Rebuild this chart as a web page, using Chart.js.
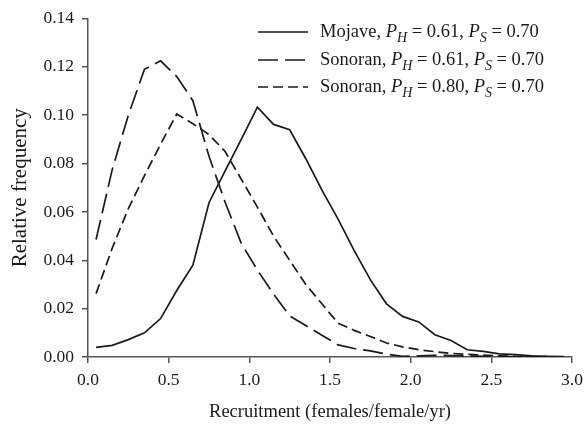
<!DOCTYPE html>
<html>
<head>
<meta charset="utf-8">
<script src="https://cdn.jsdelivr.net/npm/chart.js@4"></script>
<style>
  html, body { margin: 0; padding: 0; background: #fff; }
  #wrap { width: 585px; height: 428px; position: relative; }
</style>
</head>
<body>
<div id="wrap"><canvas id="chart"></canvas></div>
<script>
// bin centres (females/female/yr)
const bins = [0.05, 0.15, 0.25, 0.35, 0.45, 0.55, 0.65, 0.75, 0.85, 0.95,
              1.05, 1.15, 1.25, 1.35, 1.45, 1.55, 1.65, 1.75, 1.85, 1.95,
              2.05, 2.15, 2.25, 2.35, 2.45, 2.55, 2.65, 2.75, 2.85, 2.95];

const mojave = [0.004, 0.0048, 0.0072, 0.010, 0.0159, 0.0275, 0.038, 0.0638, 0.077, 0.090,
                0.1033, 0.0962, 0.094, 0.082, 0.069, 0.057, 0.044, 0.032, 0.022, 0.0168,
                0.0145, 0.0092, 0.0068, 0.003, 0.0023, 0.0013, 0.001, 0.0005, 0.0003, 0.0002];

const sonoran61 = [0.0486, 0.0775, 0.100, 0.119, 0.1225, 0.116, 0.106, 0.083, 0.064, 0.047,
                   0.036, 0.026, 0.017, 0.013, 0.009, 0.005, 0.0035, 0.0025, 0.0012, 0.0003,
                   0.0005, 0.0007, 0.0006, 0.0005, 0.0003, 0.0002, 0.0001, 0.0001, 0.0001, 0.0];

const sonoran80 = [0.0262, 0.045, 0.0614, 0.075, 0.088, 0.1005, 0.0965, 0.092, 0.085, 0.0735,
                   0.062, 0.050, 0.040, 0.030, 0.022, 0.014, 0.011, 0.0085, 0.0058, 0.0042,
                   0.003, 0.0022, 0.0015, 0.0011, 0.0008, 0.0005, 0.0003, 0.0002, 0.0001, 0.0001];

const xTicks = [0, 0.5, 1.0, 1.5, 2.0, 2.5, 3.0];
const yTicks = [0, 0.02, 0.04, 0.06, 0.08, 0.10, 0.12, 0.14];

const legendItems = [
  { site: 'Mojave, ', ph: '0.61', ps: '0.70', dash: [] },
  { site: 'Sonoran, ', ph: '0.61', ps: '0.70', dash: [20, 7] },
  { site: 'Sonoran, ', ph: '0.80', ps: '0.70', dash: [10, 5] }
];

const serif = '"Liberation Serif", "Times New Roman", serif';
const ink = '#1a1a1a';

function toPoints(ys) {
  return bins.map((x, i) => ({ x: x, y: ys[i] }));
}

function lineSet(label, ys, dash) {
  return {
    label: label,
    data: toPoints(ys),
    borderColor: ink,
    borderWidth: 1.7,
    borderDash: dash,
    pointRadius: 0,
    tension: 0,
    fill: false
  };
}

// legend with italic P and subscripts, top right inside the plot
const legendPlugin = {
  id: 'paperLegend',
  afterDraw(chart) {
    const ctx = chart.ctx;
    const x0 = 258, x1 = 308, tx = 320;
    const rows = [32, 60, 87];
    ctx.save();
    ctx.textBaseline = 'middle';
    ctx.fillStyle = ink;
    legendItems.forEach((it, i) => {
      const y = rows[i];
      ctx.beginPath();
      ctx.setLineDash(it.dash);
      ctx.lineWidth = 1.7;
      ctx.strokeStyle = ink;
      ctx.moveTo(x0, y);
      ctx.lineTo(x1, y);
      ctx.stroke();
      ctx.setLineDash([]);

      let x = tx;
      const put = (txt, font, dy) => {
        ctx.font = font;
        ctx.fillText(txt, x, y + dy);
        x += ctx.measureText(txt).width;
      };
      put(it.site, '18.5px ' + serif, 0);
      put('P', 'italic 18.5px ' + serif, 0);
      put('H', 'italic 14px ' + serif, 6);
      put(' = ' + it.ph + ', ', '18.5px ' + serif, 0);
      put('P', 'italic 18.5px ' + serif, 0);
      put('S', 'italic 14px ' + serif, 6);
      put(' = ' + it.ps, '18.5px ' + serif, 0);
    });
    ctx.restore();
  }
};

const ctx = document.getElementById('chart').getContext('2d');
new Chart(ctx, {
  type: 'line',
  data: {
    datasets: [
      lineSet('Mojave, PH = 0.61, PS = 0.70', mojave, []),
      lineSet('Sonoran, PH = 0.61, PS = 0.70', sonoran61, [20, 7]),
      lineSet('Sonoran, PH = 0.80, PS = 0.70', sonoran80, [10, 5])
    ]
  },
  options: {
    responsive: true,
    maintainAspectRatio: false,
    animation: false,
    layout: { padding: { left: 0, right: 13, top: 18, bottom: 0 } },
    plugins: {
      legend: { display: false },
      tooltip: { enabled: false }
    },
    scales: {
      x: {
        type: 'linear',
        min: 0,
        max: 3,
        afterBuildTicks: (scale) => { scale.ticks = xTicks.map(v => ({ value: v })); },
        afterFit: (scale) => {
          scale.height = 428 - 357;
          scale.paddingLeft = 0;
          scale.paddingRight = 0;
        },
        ticks: {
          color: ink,
          font: { family: serif, size: 17.5 },
          padding: 7,
          maxRotation: 0,
          callback: (v) => Number(v).toFixed(1)
        },
        grid: { drawOnChartArea: false, drawTicks: true, tickLength: 6, color: '#555', lineWidth: 1.5 },
        border: { display: true, color: '#555', width: 1.5 },
        title: {
          display: true,
          text: 'Recruitment (females/female/yr)',
          color: ink,
          font: { family: serif, size: 18.5 },
          padding: { top: 4, bottom: 5 }
        }
      },
      y: {
        min: 0,
        max: 0.14,
        afterBuildTicks: (scale) => { scale.ticks = yTicks.map(v => ({ value: v })); },
        afterFit: (scale) => { scale.width = 88; },
        ticks: {
          color: ink,
          font: { family: serif, size: 17.5 },
          padding: 8,
          callback: (v) => Number(v).toFixed(2)
        },
        grid: { drawOnChartArea: false, drawTicks: true, tickLength: 6, color: '#555', lineWidth: 1.5 },
        border: { display: true, color: '#555', width: 1.5 },
        title: {
          display: true,
          text: 'Relative frequency',
          color: ink,
          font: { family: serif, size: 21 },
          padding: { top: 8, bottom: 4 }
        }
      }
    }
  },
  plugins: [legendPlugin]
});
</script>
</body>
</html>
